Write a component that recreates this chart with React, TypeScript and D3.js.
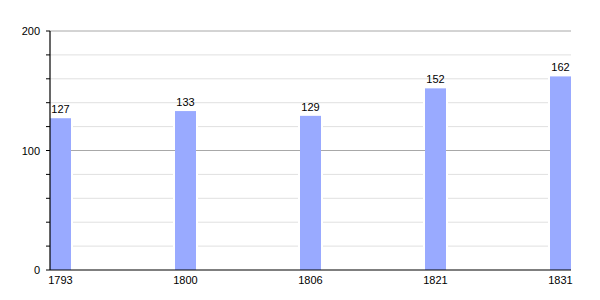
import React from "react";
import * as d3 from "d3";

const years = ["1793", "1800", "1806", "1821", "1831"];
const values = [127, 133, 129, 152, 162];
const yMajorTicks = [0, 100, 200];
const yMinorTicks = [20, 40, 60, 80, 120, 140, 160, 180];

export default function App() {
  const width = 600, height = 300;
  const left = 50, right = 571, top = 31, bottom = 270;
  const barW = 21;
  const x = d3.scalePoint<string>().domain(years).range([left, right - barW]);
  const y = d3.scaleLinear().domain([0, 200]).range([bottom, top]);
  const font = "Liberation Sans, Arial, sans-serif";
  return (
    <svg width={width} height={height} style={{ position: "absolute", left: 0, top: 0 }} fontFamily={font}>
      <rect width={width} height={height} fill="#fff" />
      {yMinorTicks.map((t) => (
        <line key={"mg" + t} x1={left} x2={right} y1={y(t)} y2={y(t)} stroke="#e0e0e0" strokeWidth={1} />
      ))}
      {years.map((yr, i) => (
        <rect key={"w" + yr} x={x(yr)! - 2} y={y(values[i])} width={barW + 4} height={bottom - y(values[i])} fill="#fff" />
      ))}
      {yMajorTicks.filter((t) => t > 0).map((t) => (
        <line key={"Mg" + t} x1={left} x2={right} y1={y(t)} y2={y(t)} stroke="#a8a8a8" strokeWidth={1} />
      ))}
      {years.map((yr, i) => (
        <g key={yr}>
          <rect x={x(yr)} y={y(values[i])} width={barW} height={bottom - y(values[i])} fill="#99aaff" />
          <text x={x(yr)! + barW / 2} y={y(values[i]) - 5} textAnchor="middle" fontSize={11} fill="#000">
            {values[i]}
          </text>
          <text x={x(yr)! + barW / 2} y={bottom + 14} textAnchor="middle" fontSize={11} fill="#000">
            {yr}
          </text>
        </g>
      ))}
      {[...yMajorTicks, ...yMinorTicks].map((t) => (
        <line key={"tk" + t} x1={left - 4} x2={left} y1={y(t)} y2={y(t)} stroke="#000" strokeWidth={1} />
      ))}
      {yMajorTicks.map((t) => (
        <text key={"tl" + t} x={left - 10} y={y(t) + 4} textAnchor="end" fontSize={11} fill="#000">
          {t}
        </text>
      ))}
      <line x1={left} x2={left} y1={top} y2={bottom} stroke="#000" strokeWidth={1.2} />
      <line x1={left} x2={right} y1={bottom} y2={bottom} stroke="#000" strokeWidth={1.2} />
    </svg>
  );
}
